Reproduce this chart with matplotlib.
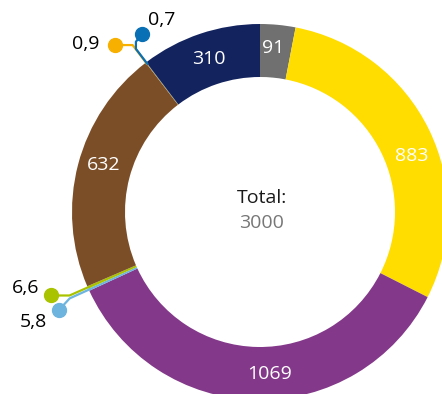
import numpy as np
import matplotlib.pyplot as plt

plt.rcParams['font.family'] = ['Open Sans', 'DejaVu Sans']

# slices, clockwise from 12 o'clock
values = [91, 883, 1069, 5.8, 6.6, 632, 0.9, 0.7, 310]
labels = ["91", "883", "1069", "5,8", "6,6", "632", "0,9", "0,7", "310"]
colors = ["#707070", "#FFDD00", "#833889", "#6DB4DF", "#AAC300",
          "#7C4E27", "#F8B000", "#0A70B6", "#13235E"]
total_label = "3000"

# layout (pixels, y up)
W, H = 442, 394
CX, CY = 260, 394 - 212
R_OUT, RING = 188, 53

# inner labels: index -> angle shift (deg, clockwise), radius
inner = {0: (-1, 165), 1: (6, 162), 2: (-4.5, 162), 5: (2, 163), 8: (0, 161)}

# callouts: index -> radial length, extra leader steps (dx, dy), text offset, alignment
callouts = {
    6: (22, [(-18, 0)], (-15, 1), "right"),
    7: (17, [(0, 7), (6, 8)], (6, 14), "left"),
    4: (20, [(-18, 0)], (-12, 7), "right"),
    3: (21, [(-11, -12)], (-12, -12), "right"),
}

fig = plt.figure(figsize=(W / 100, H / 100), dpi=100)
ax = fig.add_axes([0, 0, 1, 1])

wedges, _ = ax.pie(values, colors=colors, startangle=90, counterclock=False,
                   radius=R_OUT, center=(CX, CY),
                   wedgeprops=dict(width=RING, linewidth=0))
ax.set_xlim(0, W)
ax.set_ylim(0, H)
ax.axis('off')


def polar(theta, r):
    t = np.deg2rad(theta)
    return CX + r * np.cos(t), CY + r * np.sin(t)


for i, (shift, r) in inner.items():
    w = wedges[i]
    mid = (w.theta1 + w.theta2) / 2 - shift
    x, y = polar(mid, r)
    ax.text(x, y, labels[i], color="white", fontsize=14, ha="center", va="center")

for i, (rad, steps, toff, ha) in callouts.items():
    w = wedges[i]
    mid = (w.theta1 + w.theta2) / 2
    pts = [polar(mid, R_OUT - 2), polar(mid, R_OUT + rad)]
    for dx, dy in steps:
        pts.append((pts[-1][0] + dx, pts[-1][1] + dy))
    xs, ys = zip(*pts)
    ax.plot(xs, ys, color=colors[i], lw=1.6, solid_capstyle="round", zorder=3)
    ax.plot(xs[-1], ys[-1], "o", color=colors[i], ms=10, zorder=4)
    ax.text(xs[-1] + toff[0], ys[-1] + toff[1], labels[i], color="black",
            fontsize=14, ha=ha, va="center")

ax.text(CX + 2, CY + 14, "Total:", color="#1a1a1a", fontsize=14, ha="center", va="center")
ax.text(CX + 2, CY - 11, total_label, color="#777777", fontsize=14, ha="center", va="center")

fig.savefig("out.png", dpi=100)
